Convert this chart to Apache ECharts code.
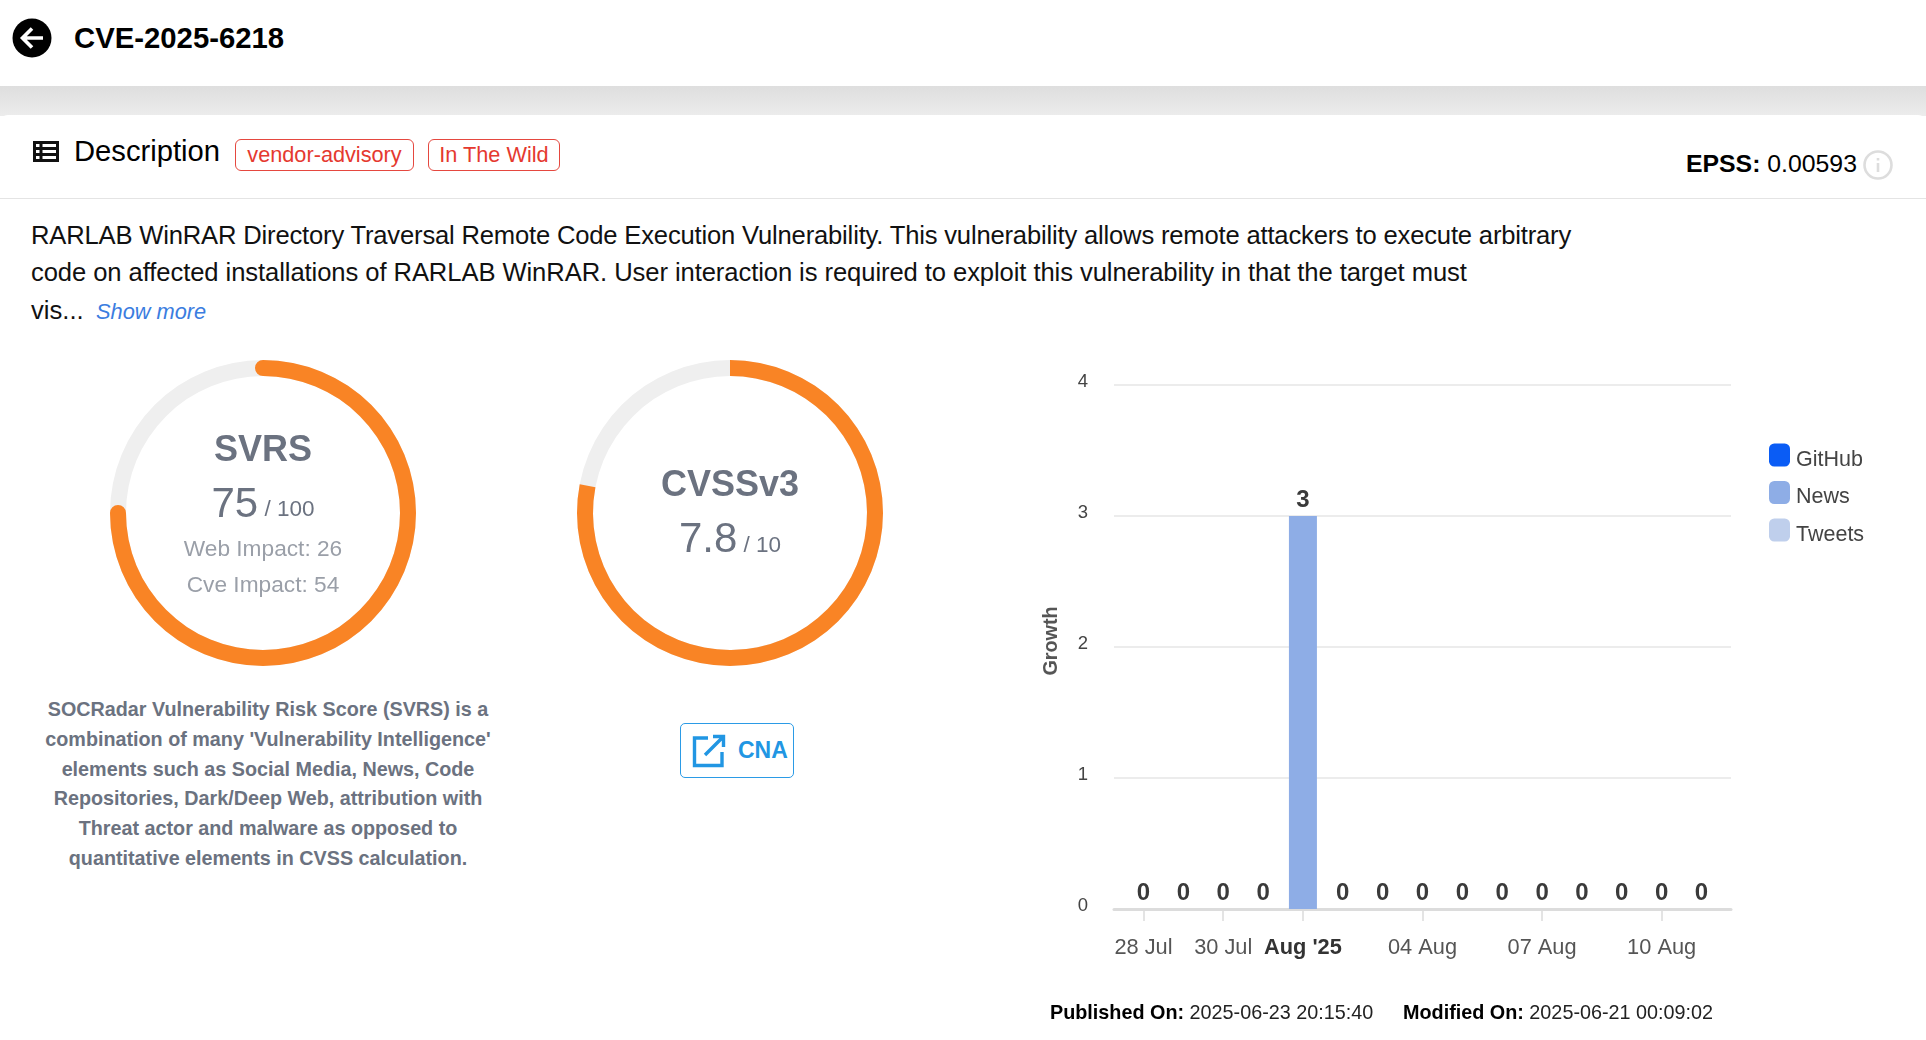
<!DOCTYPE html>
<html>
<head>
<meta charset="utf-8">
<title>CVE-2025-6218</title>
<script src="https://cdn.jsdelivr.net/npm/echarts@6/dist/echarts.min.js"></script>
<style>
html,body{margin:0;padding:0;width:1926px;height:1040px;overflow:hidden;background:#fff;font-family:"Liberation Sans",Arial,sans-serif;color:#111;}
.abs{position:absolute;white-space:nowrap;}
#gap{left:0;top:86px;width:1926px;height:30px;background:linear-gradient(#dedede,#ececec);}
#topcard{left:0;top:0;width:1926px;height:86px;background:#fff;border-bottom-left-radius:8px;border-bottom-right-radius:8px;}
#card{left:0;top:115px;width:1926px;height:925px;background:#fff;border-top-left-radius:8px;border-top-right-radius:8px;}
#rule{left:0;top:198px;width:1926px;height:1px;background:#e4e4e4;}
.badge{top:139px;height:30px;line-height:29px;border:1px solid #e5483f;border-radius:6px;color:#e5392f;font-size:21.7px;text-align:center;box-sizing:content-box;}
.para{left:31px;font-size:25.6px;line-height:37px;color:#111;}
.note{left:18px;width:500px;text-align:center;font-size:19.75px;font-weight:bold;color:#6b7280;line-height:30px;}
#chart{position:absolute;left:0;top:0;width:1926px;height:1040px;}
</style>
</head>
<body>
<div class="abs" id="gap"></div>
<div class="abs" id="topcard"></div>
<div class="abs" id="card"></div>
<div class="abs" id="rule"></div>

<svg class="abs" style="left:12px;top:18px" width="40" height="40" viewBox="0 0 40 40">
  <circle cx="20" cy="20" r="19.5" fill="#000"/>
  <path d="M31 20H11M20 10.5 10.5 20 20 29.5" fill="none" stroke="#fff" stroke-width="3.6"/>
</svg>
<div class="abs" style="left:74px;top:21px;font-size:29.3px;font-weight:bold;line-height:34px;color:#000">CVE-2025-6218</div>

<svg class="abs" style="left:33px;top:141px" width="26" height="21" viewBox="0 0 26 21">
  <path d="M1.5 1.5h23v18h-23zM1.5 7.5h23M1.5 13.5h23M8 1.5v18" fill="none" stroke="#111" stroke-width="3"/>
</svg>
<div class="abs" style="left:74px;top:134px;font-size:29.2px;line-height:34px;color:#000">Description</div>
<div class="abs badge" style="left:235px;width:177px">vendor-advisory</div>
<div class="abs badge" style="left:428px;width:130px">In The Wild</div>

<div class="abs" style="left:1686px;top:149px;font-size:24.8px;line-height:29px;color:#000"><b>EPSS:</b> 0.00593</div>
<svg class="abs" style="left:1862px;top:149px" width="32" height="32" viewBox="0 0 32 32">
  <circle cx="16" cy="16" r="13.5" fill="none" stroke="#ddd" stroke-width="2.6"/>
  <path d="M16 14v9M16 9v2.6" stroke="#ddd" stroke-width="2.6"/>
</svg>

<div class="abs para" style="top:217px;letter-spacing:-0.18px">RARLAB WinRAR Directory Traversal Remote Code Execution Vulnerability. This vulnerability allows remote attackers to execute arbitrary</div>
<div class="abs para" style="top:254px;letter-spacing:-0.08px">code on affected installations of RARLAB WinRAR. User interaction is required to exploit this vulnerability in that the target must</div>
<div class="abs para" style="top:292px">vis...</div>
<div class="abs" style="left:96px;top:293px;font-size:21.8px;line-height:37px;font-style:italic;color:#3b7de0">Show more</div>

<div class="abs note" style="top:694px">SOCRadar Vulnerability Risk Score (SVRS) is a</div>
<div class="abs note" style="top:724px">combination of many 'Vulnerability Intelligence'</div>
<div class="abs note" style="top:754px">elements such as Social Media, News, Code</div>
<div class="abs note" style="top:783px">Repositories, Dark/Deep Web, attribution with</div>
<div class="abs note" style="top:813px">Threat actor and malware as opposed to</div>
<div class="abs note" style="top:843px">quantitative elements in CVSS calculation.</div>

<div class="abs" style="left:680px;top:723px;width:112px;height:53px;border:1px solid #2b9be6;border-radius:5px"></div>
<svg class="abs" style="left:691px;top:733px" width="36" height="36" viewBox="0 0 36 36">
  <path d="M17 5H3.5v27.5H31V19M14 22 32 4M22 3.5h10.5V14" fill="none" stroke="#2196e3" stroke-width="3.4"/>
</svg>
<div class="abs" style="left:738px;top:735px;font-size:23px;line-height:30px;font-weight:bold;color:#2196e3">CNA</div>

<div id="chart"></div>

<div class="abs" style="left:1050px;top:1000px;font-size:19.8px;line-height:24px;color:#222"><b style="color:#000">Published On:</b> 2025-06-23 20:15:40</div>
<div class="abs" style="left:1403px;top:1000px;font-size:19.8px;line-height:24px;color:#222"><b style="color:#000">Modified On:</b> 2025-06-21 00:09:02</div>

<script>
var days = ['28 Jul','29 Jul','30 Jul','31 Jul',"Aug '25",'02 Aug','03 Aug','04 Aug','05 Aug','06 Aug','07 Aug','08 Aug','09 Aug','10 Aug','11 Aug'];
var tickDays = [0,2,4,7,10,13];
var github = [0,0,0,0,0,0,0,0,0,0,0,0,0,0,0];
var news   = [0,0,0,0,3,0,0,0,0,0,0,0,0,0,0];
var tweets = [0,0,0,0,0,0,0,0,0,0,0,0,0,0,0];
var growthTicks = [0,1,2,3,4];
var svrsScore = 75, svrsMax = 100, webImpact = 26, cveImpact = 54;
var cvssScore = 7.8, cvssMax = 10;

var orange = '#f98425', grey = '#6b7280';

function points(arr){
    return arr.map(function(v,i){ return [i,v]; });
}

function ring(center,value,max,round,offset,text){
    return {
        type:'gauge',
        center:center,
        radius:153,
        startAngle:90,
        endAngle:-270,
        min:0,
        max:max,
        silent:true,
        animation:false,
        pointer:{show:false},
        anchor:{show:false},
        axisTick:{show:false},
        splitLine:{show:false},
        axisLabel:{show:false},
        axisLine:{lineStyle:{width:16,color:[[1,'#efefef']]}},
        progress:{show:true,width:16,roundCap:round,itemStyle:{color:orange}},
        title:{show:false},
        detail:{
            offsetCenter:[0,offset],
            valueAnimation:false,
            formatter:function(){ return text; },
            rich:{
                name:{fontSize:36,fontWeight:'bold',color:grey,lineHeight:54,fontFamily:'Liberation Sans'},
                big:{fontSize:42,fontWeight:'normal',color:grey,lineHeight:54,fontFamily:'Liberation Sans'},
                of:{fontSize:22.5,fontWeight:'normal',color:grey,lineHeight:54,fontFamily:'Liberation Sans',padding:[10,0,0,0]},
                sub:{fontSize:22.7,fontWeight:'normal',color:'#9a9fa8',lineHeight:36,fontFamily:'Liberation Sans'}
            }
        },
        data:[{value:value}]
    };
}

function bars(name,arr,color){
    return {
        name:name,
        type:'bar',
        barWidth:28,
        barGap:'-100%',
        silent:true,
        animation:false,
        itemStyle:{color:color},
        data:points(arr)
    };
}

// value axis does not stack, so the totals get their own invisible scatter
var totals = news.map(function(v,i){ return github[i]+v+tweets[i]; });

var series = [
    ring([263,513],svrsScore,svrsMax,true,1,
        '{name|SVRS}\n{big|'+svrsScore+'}{of| / '+svrsMax+'}\n{sub|Web Impact: '+webImpact+'}\n{sub|Cve Impact: '+cveImpact+'}'),
    ring([730,513],cvssScore,cvssMax,false,0.5,
        '{name|CVSSv3}\n{big|'+cvssScore+'}{of| / '+cvssMax+'}'),
    bars('GitHub',github,'#0a5cf5'),
    bars('News',news,'#8eade6'),
    bars('Tweets',tweets,'#bfcfec'),
    {
        name:'Total',
        type:'scatter',
        silent:true,
        animation:false,
        symbolSize:0,
        itemStyle:{opacity:1},
        data:points(totals),
        label:{
            show:true,
            position:'top',
            distance:4,
            fontSize:24,
            fontWeight:'bold',
            color:'#3a3a3a',
            fontFamily:'Liberation Sans',
            formatter:function(p){ return p.value[1]; }
        }
    }
];

var chart = echarts.init(document.getElementById('chart'));
chart.setOption({
    animation:false,
    backgroundColor:'transparent',
    textStyle:{fontFamily:'Liberation Sans'},
    legend:{
        orient:'vertical',
        left:1764,
        top:438.5,
        itemWidth:21,
        itemHeight:23,
        itemGap:10,
        selectedMode:false,
        icon:'roundRect',
        data:['GitHub','News','Tweets'],
        formatter:'{t|{name}}',
        textStyle:{
            rich:{t:{fontSize:21.5,color:'#444',fontFamily:'Liberation Sans',padding:[10,0,0,1]}}
        }
    },
    grid:{left:1114,top:385,width:617,height:524},
    xAxis:{
        type:'value',
        min:-0.74,
        max:14.74,
        splitLine:{show:false},
        axisLine:{show:true,onZero:false,lineStyle:{color:'#dcdcdc',width:3}},
        axisTick:{show:true,customValues:tickDays,length:12,lineStyle:{color:'#dcdcdc',width:1.5}},
        axisLabel:{
            customValues:tickDays,
            margin:28,
            fontSize:21.8,
            color:'#555',
            formatter:function(v){
                return v==4 ? '{b|'+days[v]+'}' : days[v];
            },
            rich:{b:{fontSize:21.8,fontWeight:'bold',color:'#333'}}
        }
    },
    yAxis:{
        type:'value',
        min:growthTicks[0],
        max:growthTicks[growthTicks.length-1],
        interval:1,
        name:'Growth',
        nameLocation:'middle',
        nameGap:52,
        nameTextStyle:{fontSize:19.8,fontWeight:'bold',color:'#555',padding:[0,0,0,12]},
        axisLine:{show:false},
        axisTick:{show:false},
        splitLine:{lineStyle:{color:'#e6e6e6',width:1.5}},
        axisLabel:{margin:26,fontSize:18.5,color:'#444',verticalAlign:'bottom',lineHeight:6}
    },
    series:series
});
</script>
</body>
</html>
